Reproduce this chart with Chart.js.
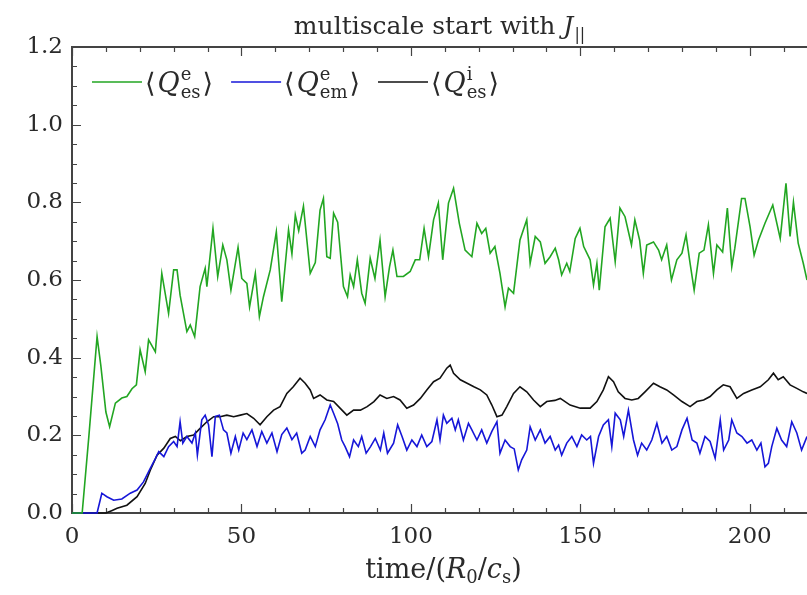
<!DOCTYPE html>
<html>
<head>
<meta charset="utf-8">
<script src="https://cdn.jsdelivr.net/npm/chart.js@4"></script>
<style>
  body { margin: 0; background: #fff; }
  #wrap { width: 807px; height: 595px; }
</style>
</head>
<body>
<div id="wrap"><canvas id="myChart"></canvas></div>
<script>
//Electron electrostatic heat flux <Q^e_es>
var esElecTime = [0,3,5,7.4,8.5,10,11.1,12.8,14.7,16.2,17.7,19,20.1,21.6,22.6,24.6,26.5,28.5,30,31,
  31.9,33.9,34.9,36.2,37.8,39.3,39.8,41.6,43,44.5,45.7,46.9,49,50.1,51.6,52.4,54.1,55.3,56.5,58.5,
  60.3,61.9,63.9,64.9,65.9,66.9,68.3,70.3,71.8,73.2,74.2,75.2,76.2,77.2,78.4,80.1,81.3,82.1,83.1,84.2,
  85.5,86.5,88,89.4,90.9,92.4,93.7,94.7,95.9,97.8,99.8,101.3,102.6,103.9,105.2,106.7,108.1,109.4,111.1,112.6,
  114.3,116,118,119.5,120.9,122.1,123.4,124.8,126.3,127.8,128.8,130.3,132.2,134.2,135.2,136.7,138.2,139.6,141.1,142.6,
  143.6,144.5,146,146.9,148.5,149.9,151,152.9,153.9,154.9,155.6,157.3,158.8,160.3,161.7,163.2,165.1,166.1,167.5,168.6,
  169.6,171.6,173.1,174,175.5,176.9,178.5,180,181.2,182.4,183.6,185.1,186.5,187.8,189.3,190.3,192,193.4,194.7,195.6,
  197.6,198.6,200.1,201.3,202.6,204.5,206.8,209,210.7,211.9,212.9,214.3,215.8,216.9];
var esElecVal = [0,0,0.2,0.454,0.38,0.26,0.222,0.283,0.296,0.30,0.32,0.33,0.42,0.364,0.446,0.415,0.617,0.514,0.626,0.626,
  0.561,0.467,0.484,0.454,0.583,0.63,0.583,0.733,0.609,0.69,0.652,0.574,0.684,0.604,0.591,0.531,0.617,0.506,0.557,0.626,
  0.724,0.544,0.729,0.667,0.767,0.727,0.79,0.617,0.645,0.78,0.81,0.66,0.656,0.772,0.749,0.583,0.557,0.613,0.583,0.652,
  0.566,0.54,0.656,0.604,0.703,0.557,0.634,0.677,0.609,0.609,0.622,0.652,0.652,0.733,0.66,0.755,0.798,0.652,0.798,0.836,
  0.746,0.677,0.66,0.746,0.72,0.733,0.669,0.686,0.617,0.531,0.579,0.566,0.703,0.755,0.643,0.712,0.698,0.643,0.66,0.682,
  0.652,0.613,0.643,0.622,0.707,0.733,0.686,0.652,0.587,0.643,0.574,0.737,0.759,0.647,0.785,0.763,0.69,0.755,0.703,0.617,
  0.69,0.698,0.677,0.652,0.69,0.6,0.652,0.669,0.716,0.643,0.574,0.669,0.677,0.742,0.617,0.69,0.672,0.785,0.634,0.682,
  0.81,0.81,0.737,0.664,0.703,0.746,0.793,0.707,0.849,0.712,0.8,0.695,0.643,0.6];

//Electron electromagnetic heat flux <Q^e_em>
var emElecTime = [0,7.4,8.8,10.3,12.3,14.7,17.2,19.2,21.1,23.1,24.6,25.6,27.1,28.5,30,31,31.9,32.7,33.9,35.4,
  36.4,37,38.3,39.3,40.3,41.3,42.3,43.5,44.7,45.7,46.9,48.2,49.2,50.5,51.6,53.1,54.6,56,57.5,59,
  60.5,61.9,63.4,64.9,66.3,67.8,68.8,70.3,71.8,73.2,74.7,76.2,77.2,78.4,79.6,80.6,81.9,83.1,84.5,85.5,
  86.8,88.1,89.5,91,92,93.1,94.9,96.1,97.4,98.8,100.3,101.8,103.2,104.7,106.2,107.7,108.6,109.6,110.6,112.1,
  113.1,114,115.5,117,118,119.5,120.9,122.4,123.9,125.4,126.3,127.8,129.3,130.5,131.7,132.7,134.2,135.2,136.7,138.2,
  139.6,141.1,142.6,143.6,144.5,146,147.5,149,150.4,151.9,153,153.9,155.4,156.8,158.3,159.3,160.3,161.8,162.8,164.2,
  165.7,166.9,168.1,169.6,171.1,172.6,174.1,175.5,177,178.5,180,181.5,183,184.4,185.3,186.8,188.3,189.8,191.3,192.3,
  193.8,194.7,196.2,197.7,199.2,200.6,202.1,203.3,204.5,205.5,206.5,208,209.4,210.9,212.4,213.9,215.3,216.9];
var emElecVal = [0,0,0.051,0.042,0.033,0.036,0.051,0.059,0.08,0.115,0.14,0.158,0.145,0.171,0.184,0.171,0.235,0.18,0.197,0.18,
  0.206,0.149,0.24,0.252,0.227,0.145,0.249,0.252,0.214,0.206,0.154,0.197,0.162,0.206,0.189,0.214,0.171,0.21,0.18,0.206,
  0.158,0.202,0.219,0.189,0.206,0.154,0.162,0.197,0.171,0.214,0.24,0.278,0.257,0.23,0.188,0.171,0.145,0.188,0.171,0.197,
  0.154,0.171,0.192,0.162,0.206,0.154,0.18,0.227,0.197,0.162,0.188,0.171,0.201,0.171,0.184,0.24,0.188,0.252,0.231,0.244,
  0.214,0.24,0.188,0.231,0.214,0.188,0.214,0.18,0.21,0.235,0.154,0.188,0.171,0.165,0.111,0.137,0.162,0.222,0.188,0.214,
  0.18,0.197,0.162,0.175,0.149,0.18,0.197,0.171,0.201,0.188,0.197,0.128,0.197,0.227,0.24,0.171,0.257,0.24,0.197,0.265,
  0.188,0.149,0.18,0.162,0.188,0.231,0.18,0.197,0.162,0.171,0.214,0.244,0.188,0.18,0.154,0.197,0.184,0.141,0.24,0.162,
  0.188,0.24,0.206,0.197,0.18,0.188,0.162,0.18,0.119,0.128,0.171,0.218,0.188,0.171,0.235,0.206,0.162,0.197];

//Ion electrostatic heat flux <Q^i_es>
var esIonTime = [0,10,11.7,13.3,16.2,19.2,21.6,23.1,25.1,27.1,29,30.5,32,33.9,35.9,37.8,39.8,41.8,43.7,45.7,
  47.7,49.7,51.6,53.6,55.5,57.5,59.5,61.4,63.4,65.3,67.3,68.8,70.3,71.3,73.2,75.2,77.2,79.1,81.1,83.1,
  85.1,87.1,89.1,90.9,92.9,94.9,96.8,98.8,100.8,102.8,104.7,106.7,108.6,110.6,111.6,112.6,114.6,116.6,118.6,120.5,
  122.4,123.9,125.4,126.9,128.3,130.3,132.2,134.2,136.2,138.2,140.1,142.5,144.1,147,150,152.9,154.9,156.8,158.3,159.8,
  161.2,163.2,165.2,167.1,169.1,171.6,173.5,175.5,177.5,180,182.4,184.4,186.4,188.3,190.3,192.2,194.2,196.2,198.2,200.6,
  203.1,205.5,207,208.4,209.9,211.9,213.9,215.8,216.9];
var esIonVal = [0,0,0.006,0.012,0.02,0.042,0.076,0.11,0.149,0.167,0.192,0.197,0.186,0.197,0.201,0.218,0.235,0.248,0.248,0.252,
  0.248,0.252,0.256,0.244,0.227,0.248,0.265,0.274,0.308,0.325,0.347,0.334,0.317,0.295,0.304,0.291,0.287,0.27,0.252,0.265,
  0.265,0.274,0.287,0.304,0.295,0.3,0.291,0.27,0.278,0.295,0.317,0.338,0.347,0.373,0.381,0.36,0.343,0.334,0.325,0.317,
  0.304,0.278,0.248,0.252,0.274,0.308,0.325,0.312,0.291,0.274,0.287,0.29,0.295,0.278,0.27,0.27,0.287,0.317,0.351,0.338,
  0.312,0.295,0.291,0.295,0.312,0.334,0.325,0.317,0.304,0.287,0.274,0.287,0.291,0.3,0.317,0.33,0.325,0.295,0.308,0.317,
  0.325,0.343,0.36,0.343,0.351,0.33,0.321,0.312,0.308];

//Axis ranges and tick labels
var timeMax = 216.9;
var timeTicks = [0, 50, 100, 150, 200];
var fluxTicks = ['0.0', '0.2', '0.4', '0.6', '0.8', '1.0', '1.2'];

//Legend entries: superscript / subscript of each Q
var legendSup = ['e', 'e', 'i'];
var legendSub = ['es', 'em', 'es'];

var SERIF = '"DejaVu Serif", "Liberation Serif", serif';
var TEXT = '#2a2a2a';
var AXIS = '#444';

function toPoints(ts, vs) {
    return ts.map(function(t, i) { return {x: t, y: vs[i]}; });
}

//Draw a run of pieces: {t, it (italic), dy (shift), sz (size)} or {stack: [sup, sub]}
function drawPieces(ctx, x, y, pieces, measureOnly, base, small) {
    var cx = x;
    base = base || 26;
    small = small || 16;
    pieces.forEach(function(p) {
        ctx.font = (p.it ? 'italic ' : '') + (p.sz || base) + 'px ' + SERIF;
        if (p.stack) {
            //superscript and subscript sharing the same x
            ctx.font = small + 'px ' + SERIF;
            var w1 = ctx.measureText(p.stack[0]).width;
            var w2 = ctx.measureText(p.stack[1]).width;
            if (!measureOnly) {
                ctx.fillText(p.stack[0], cx + 1, y - 12);
                ctx.fillText(p.stack[1], cx + 1, y + 6);
            }
            cx += Math.max(w1, w2) + 3;
            return;
        }
        if (!measureOnly) ctx.fillText(p.t, cx, y + (p.dy || 0));
        cx += ctx.measureText(p.t).width + (p.gap || 0);
    });
    return cx - x;
}

var mathText = {
    id: 'mathText',
    afterDraw: function(chart) {
        var ctx = chart.ctx, a = chart.chartArea;
        var mid = (a.left + a.right) / 2;
        ctx.save();
        ctx.fillStyle = TEXT;
        ctx.textBaseline = 'alphabetic';
        ctx.textAlign = 'left';

        //Title
        var title = [
            {t: 'multiscale start with '},
            {t: 'J', it: true, gap: 1},
            {t: '||', sz: 16, dy: 6}
        ];
        var w = drawPieces(ctx, 0, 0, title, true, 25);
        drawPieces(ctx, mid - w / 2, 34, title, false, 25);

        //x axis title
        var xt = [
            {t: 'time/('},
            {t: 'R', it: true},
            {t: '0', sz: 18, dy: 5},
            {t: '/'},
            {t: 'c', it: true},
            {t: 's', sz: 18, dy: 5},
            {t: ')'}
        ];
        w = drawPieces(ctx, 0, 0, xt, true, 27);
        drawPieces(ctx, mid - w / 2 + 4, 578, xt, false, 27);

        //Legend inside the plot, top-left
        var lx = a.left + 20, ly = 82;
        chart.data.datasets.forEach(function(ds, i) {
            ctx.strokeStyle = ds.borderColor;
            ctx.lineWidth = 1.6;
            ctx.beginPath();
            ctx.moveTo(lx, ly);
            ctx.lineTo(lx + 50, ly);
            ctx.stroke();
            lx += 53;
            ctx.fillStyle = TEXT;
            lx += drawPieces(ctx, lx, ly + 10, [
                {t: '\u27E8', gap: 2},
                {t: 'Q', it: true},
                {stack: [legendSup[i], legendSub[i]]},
                {t: '\u27E9'}
            ], false, 27, 18);
            lx += 18;
        });
        ctx.restore();
    }
};

//Box frame with inward ticks on left, bottom and top
var frame = {
    id: 'frame',
    beforeDatasetsDraw: function(chart) {
        var ctx = chart.ctx, a = chart.chartArea;
        var x = chart.scales.x, y = chart.scales.y;
        ctx.save();
        ctx.strokeStyle = AXIS;
        ctx.lineWidth = 1.2;
        ctx.beginPath();
        for (var k = 0; k * 10 <= timeMax; k++) {
            var px = Math.round(x.getPixelForValue(k * 10)) + 0.5;
            var len = k % 5 === 0 ? 9 : 5;
            ctx.moveTo(px, a.bottom); ctx.lineTo(px, a.bottom - len);
            ctx.moveTo(px, a.top); ctx.lineTo(px, a.top + len);
        }
        for (var j = 0; j <= 24; j++) {
            var py = Math.round(y.getPixelForValue(j * 0.05)) + 0.5;
            var ln = j % 4 === 0 ? 9 : 5;
            ctx.moveTo(a.left, py); ctx.lineTo(a.left + ln, py);
        }
        ctx.stroke();

        ctx.lineWidth = 2;
        ctx.beginPath();
        ctx.moveTo(a.right, a.top);
        ctx.lineTo(a.left, a.top);
        ctx.lineTo(a.left, a.bottom);
        ctx.lineTo(a.right, a.bottom);
        ctx.stroke();
        ctx.restore();
    }
};

var lineStyle = {borderWidth: 1.6, pointRadius: 0, tension: 0, fill: false, clip: 4};

var config = {
    type: 'line',
    data: {
        datasets: [
            Object.assign({label: 'Qe_es', data: toPoints(esElecTime, esElecVal), borderColor: '#22a622'}, lineStyle),
            Object.assign({label: 'Qe_em', data: toPoints(emElecTime, emElecVal), borderColor: '#1616d8'}, lineStyle),
            Object.assign({label: 'Qi_es', data: toPoints(esIonTime, esIonVal), borderColor: '#111111'}, lineStyle)
        ]
    },
    options: {
        responsive: true,
        maintainAspectRatio: false,
        animation: false,
        events: [],
        layout: {padding: {top: 47, right: 0, left: 0, bottom: 0}},
        plugins: {
            legend: {display: false},
            title: {display: false},
            tooltip: {enabled: false}
        },
        scales: {
            x: {
                type: 'linear',
                min: 0,
                max: timeMax,
                afterFit: function(s) { s.height = 82; },
                afterBuildTicks: function(s) {
                    s.ticks = timeTicks.map(function(v) { return {value: v}; });
                },
                grid: {display: false, drawTicks: false, tickLength: 0},
                border: {display: false},
                ticks: {
                    maxRotation: 0,
                    minRotation: 0,
                    autoSkip: false,
                    padding: 10,
                    color: TEXT,
                    font: {family: SERIF, size: 23}
                }
            },
            y: {
                min: 0,
                max: 1.2,
                afterFit: function(s) { s.width = 72; },
                afterBuildTicks: function(s) {
                    s.ticks = fluxTicks.map(function(v) { return {value: parseFloat(v)}; });
                },
                grid: {display: false, drawTicks: false, tickLength: 0},
                border: {display: false},
                ticks: {
                    autoSkip: false,
                    padding: 9,
                    color: TEXT,
                    font: {family: SERIF, size: 23},
                    callback: function(v) { return v.toFixed(1); }
                }
            }
        }
    },
    plugins: [frame, mathText]
};

var canvas = document.getElementById('myChart').getContext('2d');
var myChart = new Chart(canvas, config);
</script>
</body>
</html>
